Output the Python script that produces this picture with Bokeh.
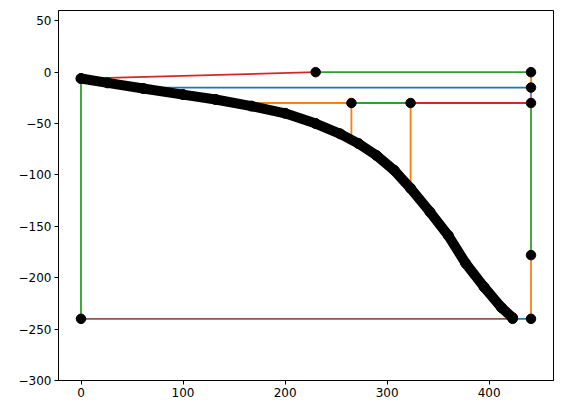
from bokeh.plotting import figure
from bokeh.models import Range1d, FixedTicker
from bokeh.embed import file_html
from bokeh.resources import INLINE

# Black curve
curve_x = [0, 26, 61, 100, 132, 167, 200, 230, 254, 272, 289.5, 307, 323, 342, 360, 377, 395, 412, 423]
curve_y = [-6.2, -10.4, -15.9, -21.8, -26.6, -33, -40, -50, -60, -69.5, -81, -95.5, -113, -136, -159, -186, -209, -229, -239]

# Coloured line segments
seg_x0 = [58, 441, 441, 441, 323, 265, 265, 323, 441, 441, 441, 423, 0, 0, 230]
seg_y0 = [-15, 0, -15, -30, -30, -30, -30, -30, -30, -178, -240, -240, -240, -6.2, 0]
seg_x1 = [441, 441, 441, 323, 265, 150, 265, 323, 441, 441, 423, 0, 0, 230, 441]
seg_y1 = [-15, -15, -30, -30, -30, -30, -66, -113, -178, -240, -240, -240, -6.2, 0, 0]
seg_color = ["#1f77b4", "#ff7f0e", "#9467bd", "#d62728", "#2ca02c", "#ff7f0e", "#ff7f0e",
             "#ff7f0e", "#2ca02c", "#ff7f0e", "#1f77b4", "#8c564b", "#2ca02c", "#d62728", "#2ca02c"]

# Black vertex markers
pt_x = [0, 230, 441, 441, 441, 265, 323, 441, 441, 423, 0]
pt_y = [-6.2, 0, 0, -15, -30, -30, -30, -178, -240, -240, -240]

x_ticks = [0, 100, 200, 300, 400]
y_ticks = [50, 0, -50, -100, -150, -200, -250, -300]

p = figure(width=554, height=405, output_backend="svg", toolbar_location=None,
           x_range=Range1d(-22.05, 463.05), y_range=Range1d(-300, 60),
           min_border_left=58, min_border_right=1, min_border_top=10, min_border_bottom=25)

p.grid.visible = False
p.outline_line_color = "black"
p.outline_line_width = 1
p.background_fill_color = "white"
p.border_fill_color = "white"

for ax, ticks in ((p.xaxis[0], x_ticks), (p.yaxis[0], y_ticks)):
    ax.ticker = FixedTicker(ticks=ticks)
    ax.major_label_overrides = {t: (str(t).replace("-", "\u2212")) for t in ticks}
    ax.minor_tick_line_color = None
    ax.major_tick_out = 4
    ax.major_tick_in = 0
    ax.axis_line_color = "black"
    ax.major_tick_line_color = "black"
    ax.major_label_text_font = "DejaVu Sans"
    ax.major_label_text_font_size = "12px"
    ax.major_label_text_color = "black"
    ax.major_label_standoff = 3

p.segment(x0=seg_x0, y0=seg_y0, x1=seg_x1, y1=seg_y1, line_color=seg_color, line_width=1.8)
p.line(curve_x, curve_y, line_color="black", line_width=10, line_join="round", line_cap="round")
p.scatter(curve_x, curve_y, size=10, fill_color="black", line_color="black")
p.scatter(pt_x, pt_y, size=9.5, fill_color="black", line_color="black")

open("out.html", "w").write(file_html(p, INLINE))
